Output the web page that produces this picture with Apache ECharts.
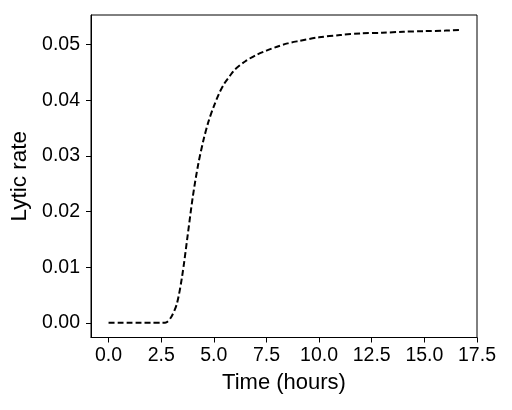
<!DOCTYPE html>
<html>
<head>
<meta charset="utf-8">
<script src="https://cdn.jsdelivr.net/npm/echarts@6/dist/echarts.min.js"></script>
<style>html,body{margin:0;padding:0;background:#fff}#c{width:512px;height:410px}</style>
</head>
<body>
<div id="c"></div>
<script>
const timeHours = [0, 0.5, 1, 1.5, 2, 2.5, 2.75, 3.0, 3.25, 3.5, 3.75, 4.0, 4.25, 4.5, 4.75, 5.0, 5.25, 5.5, 5.75, 6.0, 6.5, 7.0, 7.5, 8.0, 8.5, 9.0, 10, 11, 12, 13, 14, 15, 16, 16.67];
const lyticRate = [0, 0, 0, 0, 0, 0, 0.0001, 0.0012, 0.0035, 0.0085, 0.0155, 0.0226, 0.0283, 0.0327, 0.0362, 0.0389, 0.0412, 0.0430, 0.0443, 0.0455, 0.0470, 0.0481, 0.0489, 0.0496, 0.0502, 0.0506, 0.0513, 0.0517, 0.0520, 0.0521, 0.0523, 0.0524, 0.0525, 0.0526];
const xTicks = [0, 2.5, 5, 7.5, 10, 12.5, 15, 17.5];
const yTicks = [0, 0.01, 0.02, 0.03, 0.04, 0.05];

const font = 'Liberation Sans, Arial, Helvetica, sans-serif';
const chart = echarts.init(document.getElementById('c'), null, {renderer: 'canvas'});
chart.setOption({
  animation: false,
  backgroundColor: '#fff',
  grid: {left: 91, right: 35, top: 15, bottom: 72.5, show: true, borderColor: '#000', borderWidth: 1, backgroundColor: 'transparent'},
  xAxis: {
    type: 'value', min: -0.8335, max: 17.5,
    name: 'Time (hours)', nameLocation: 'middle', nameGap: 34,
    nameTextStyle: {fontFamily: font, fontSize: 22, color: '#000'},
    axisLine: {show: true, onZero: false, lineStyle: {color: '#000', width: 1}},
    axisTick: {show: true, inside: false, length: 5, lineStyle: {color: '#000'}, customValues: xTicks},
    axisLabel: {customValues: xTicks, formatter: v => v.toFixed(1), fontFamily: font, fontSize: 19.5, color: '#000', margin: 8},
    splitLine: {show: false}
  },
  yAxis: {
    type: 'value', min: -0.00263, max: 0.0553,
    name: 'Lytic rate', nameLocation: 'middle', nameGap: 56, nameRotate: 90,
    nameTextStyle: {fontFamily: font, fontSize: 22.5, color: '#000'},
    axisLine: {show: true, onZero: false, lineStyle: {color: '#000', width: 1}},
    axisTick: {show: true, inside: false, length: 5, lineStyle: {color: '#000'}, customValues: yTicks},
    axisLabel: {customValues: yTicks, formatter: v => v.toFixed(2), fontFamily: font, fontSize: 19.5, color: '#000', margin: 11},
    splitLine: {show: false}
  },
  series: [{
    type: 'line',
    data: timeHours.map((t, i) => [t, lyticRate[i]]),
    showSymbol: false,
    smooth: 0.3,
    lineStyle: {color: '#000', width: 2, type: [6, 3]}
  }]
});
</script>
</body>
</html>
